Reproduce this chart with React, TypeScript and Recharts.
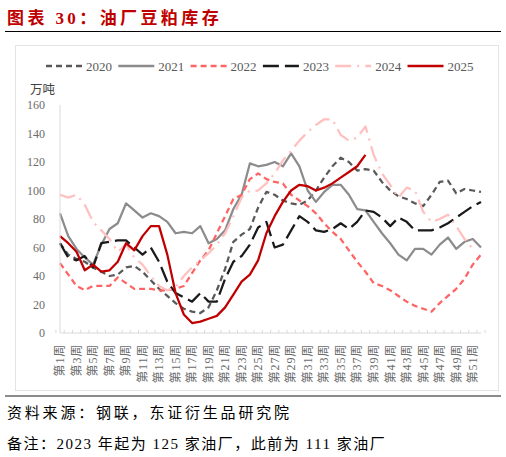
import { Line, LineChart, XAxis, YAxis } from 'recharts'

// 周度油厂豆粕库存（万吨）
const weeks = [
  '第1周', '第2周', '第3周', '第4周', '第5周', '第6周', '第7周', '第8周', '第9周', '第10周',
  '第11周', '第12周', '第13周', '第14周', '第15周', '第16周', '第17周', '第18周', '第19周', '第20周',
  '第21周', '第22周', '第23周', '第24周', '第25周', '第26周', '第27周', '第28周', '第29周', '第30周',
  '第31周', '第32周', '第33周', '第34周', '第35周', '第36周', '第37周', '第38周', '第39周', '第40周',
  '第41周', '第42周', '第43周', '第44周', '第45周', '第46周', '第47周', '第48周', '第49周', '第50周',
  '第51周', '第52周',
]

const s2020 = [
  63, 55, 52, 50, 46, 43, 40, 41, 46, 47, 43, 37, 31, 26, 21, 17, 15, 14, 18, 30,
  45, 64, 69, 73, 88, 99, 97, 93, 91, 90, 93, 100, 109, 117, 123, 120, 114, 115, 114, 106,
  100, 96, 94, 91, 89, 97, 106, 107, 98, 101, 100, 99,
]
const s2021 = [
  84, 68, 59, 53, 48, 62, 73, 77, 91, 86, 81, 84, 82, 78, 70, 71, 70, 75, 63, 66,
  72, 87, 97, 119, 117, 118, 120, 117, 126, 117, 100, 92, 99, 104, 104, 97, 87, 86, 78, 70,
  63, 55, 51, 59, 59, 55, 62, 67, 59, 64, 66, 60,
]
const s2022 = [
  49, 41, 33, 30, 33, 33, 33, 39, 35, 31, 31, 31, 30, 30, 31, 33, 42, 51, 58, 70,
  82, 94, 97, 108, 112, 108, 106, 105, 97, 93, 89, 84, 77, 71, 66, 58, 50, 43, 35, 33,
  30, 26, 22, 19, 17, 15, 21, 26, 31, 38, 48, 55,
]
const s2023 = [
  63, 53, 51, 54, 46, 63, 64, 65, 65, 60, 55, 60, 50, 36, 28, 25, 22, 28, 22, 22,
  38, 50, 54, 62, 74, 78, 60, 62, 72, 82, 78, 72, 71, 73, 77, 73, 78, 86, 85, 81,
  75, 81, 78, 72, 72, 72, 74, 77, 81, 85, 89, 92,
]
const s2024 = [
  97, 95, 97, 90, 78, 72, 66, 57, 62, 53, 48, 40, 33, 30, 32, 40, 46, 51, 56, 62,
  70, 82, 95, 100, 100, 105, 112, 121, 128, 135, 141, 146, 150, 150, 139, 135, 137, 145, 125, 112,
  104, 95, 102, 100, 85, 78, 80, 83, 75, 66, 59, null,
]
const s2025 = [
  68, 63, 57, 44, 48, 43, 44, 50, 63, 58, 68, 75, 75, 55, 28, 13, 7, 8, 10, 12,
  18, 27, 36, 41, 51, 70, 82, 92, 100, 104, 103, 100, 102, 105, 109, 113, 117, 125,
]

const yTicks = [0, 20, 40, 60, 80, 100, 120, 140, 160]

const series = [
  { key: 'y2020', name: '2020', color: '#595959', dash: '6 4' },
  { key: 'y2021', name: '2021', color: '#8c8c8c', dash: undefined },
  { key: 'y2022', name: '2022', color: '#ff6464', dash: '6 4' },
  { key: 'y2023', name: '2023', color: '#1a1a1a', dash: '16 6' },
  { key: 'y2024', name: '2024', color: '#ffc0c0', dash: '16 6 2 6' },
  { key: 'y2025', name: '2025', color: '#c00000', dash: undefined },
]

const data = weeks.map((week, i) => ({
  week,
  y2020: s2020[i] ?? null,
  y2021: s2021[i] ?? null,
  y2022: s2022[i] ?? null,
  y2023: s2023[i] ?? null,
  y2024: s2024[i] ?? null,
  y2025: s2025[i] ?? null,
}))

const SERIF = "'Liberation Serif', 'Noto Sans CJK SC', serif"
const CHART_W = 484
const CHART_H = 346
const Y_AXIS_W = 45
const RIGHT = 18
const BAND = (CHART_W - Y_AXIS_W - RIGHT) / weeks.length

function WeekTick(props: any) {
  const { x, y, payload, index } = props
  const isLast = index === weeks.length - 1
  return (
    <g>
      <line x1={x - BAND / 2} x2={x - BAND / 2} y1={y - 3} y2={y} stroke="#d9d9d9" />
      {isLast && (
        <line x1={x + BAND / 2} x2={x + BAND / 2} y1={y - 3} y2={y} stroke="#d9d9d9" />
      )}
      {index % 2 === 0 && (
        <text
          x={x}
          y={y + 11}
          dy="0.36em"
          transform={`rotate(-90, ${x}, ${y + 11})`}
          textAnchor="end"
          fill="#6b6b6b"
          fontSize={12}
          letterSpacing={0.8}
          fontFamily={SERIF}
        >
          {payload.value}
        </text>
      )}
    </g>
  )
}

function LegendRow() {
  return (
    <svg width={470} height={20} style={{ position: 'absolute', left: 40, top: 56 }}>
      {series.map((s, i) => {
        const x0 = 6 + i * 72.3
        return (
          <g key={s.key}>
            <line
              x1={x0}
              x2={x0 + 36}
              y1={10}
              y2={10}
              stroke={s.color}
              strokeWidth={2.5}
              strokeDasharray={s.dash}
            />
            <text x={x0 + 40} y={10} dy="0.35em" fontSize={13} fill="#595959" fontFamily={SERIF}>
              {s.name}
            </text>
          </g>
        )
      })}
    </svg>
  )
}

export default function App() {
  return (
    <div
      style={{
        position: 'absolute',
        left: 0,
        top: 0,
        width: 506,
        height: 457,
        background: '#fff',
        fontFamily: SERIF,
      }}
    >
      <div
        style={{
          position: 'absolute',
          left: 7,
          top: 4,
          color: '#c00000',
          fontSize: 17,
          fontWeight: 700,
          letterSpacing: 3.4,
          whiteSpace: 'nowrap',
        }}
      >
        图表 30：油厂豆粕库存
      </div>
      <div style={{ position: 'absolute', left: 5, top: 31, width: 496, height: 1, background: '#000' }} />

      <div
        style={{
          position: 'absolute',
          left: 15,
          top: 45,
          width: CHART_W,
          height: CHART_H,
          border: '1px solid #e3e3e3',
          boxSizing: 'border-box',
        }}
      />
      <div style={{ position: 'absolute', left: 15, top: 45 }}>
        <LineChart
          width={CHART_W}
          height={CHART_H}
          data={data}
          margin={{ top: 60, right: RIGHT, bottom: 0, left: 0 }}
        >
          <XAxis
            dataKey="week"
            interval={0}
            tickLine={false}
            tickSize={0}
            tickMargin={0}
            height={58}
            stroke="#d9d9d9"
            tick={<WeekTick />}
          />
          <YAxis
            width={Y_AXIS_W}
            domain={[0, 160]}
            ticks={yTicks}
            tickLine={false}
            tickSize={0}
            tickMargin={15}
            stroke="#d9d9d9"
            tick={{ fill: '#6b6b6b', fontSize: 12, fontFamily: SERIF }}
          />
          {series.map((s) => (
            <Line
              key={s.key}
              type="linear"
              dataKey={s.key}
              name={s.name}
              stroke={s.color}
              strokeWidth={2.25}
              strokeDasharray={s.dash}
              strokeLinejoin="round"
              dot={false}
              activeDot={false}
              connectNulls={false}
              isAnimationActive={false}
            />
          ))}
        </LineChart>
      </div>

      <LegendRow />
      <div style={{ position: 'absolute', left: 30, top: 79, fontSize: 12.5, color: '#404040' }}>万吨</div>

      <div style={{ position: 'absolute', left: 5, top: 395, width: 496, height: 2, background: '#8c8c8c' }} />
      <div
        style={{
          position: 'absolute',
          left: 7,
          top: 401,
          fontSize: 15,
          letterSpacing: 2.8,
          color: '#000',
          whiteSpace: 'nowrap',
        }}
      >
        资料来源：钢联，东证衍生品研究院
      </div>
      <div
        style={{
          position: 'absolute',
          left: 7,
          top: 432,
          fontSize: 15,
          letterSpacing: 1.5,
          color: '#000',
          whiteSpace: 'nowrap',
        }}
      >
        备注：2023 年起为 125 家油厂，此前为 111 家油厂
      </div>
    </div>
  )
}
